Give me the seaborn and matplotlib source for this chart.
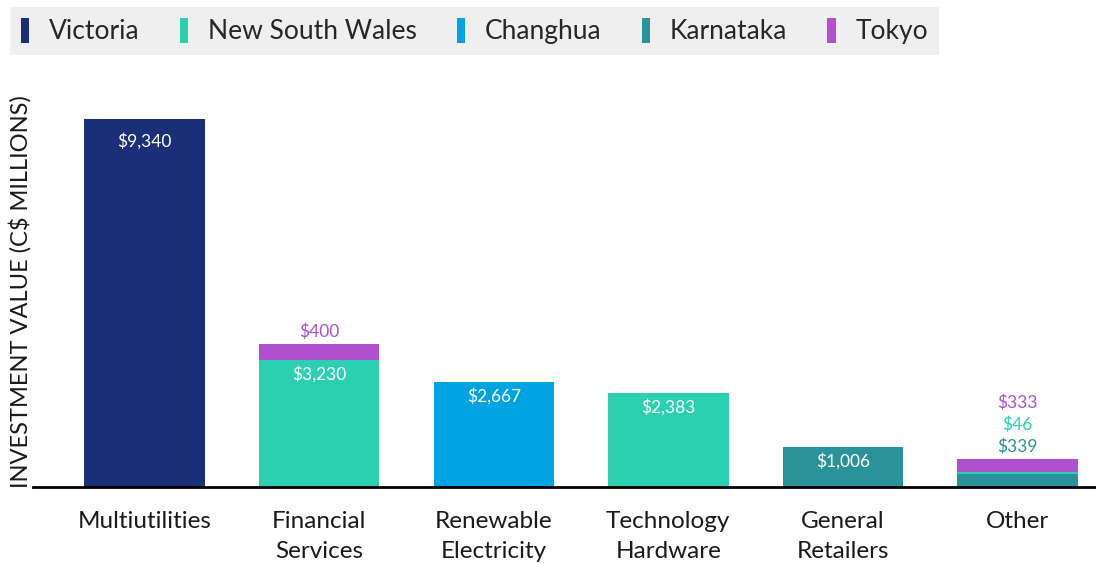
import seaborn as sns
import pandas as pd
import matplotlib.pyplot as plt
from matplotlib.patches import Patch

sns.set_theme(style='white')
plt.rcParams['font.family'] = ['Lato', 'DejaVu Sans']

categories = ['Multiutilities', 'Financial\nServices', 'Renewable\nElectricity',
              'Technology\nHardware', 'General\nRetailers', 'Other']
legend_order = ['Victoria', 'New South Wales', 'Changhua', 'Karnataka', 'Tokyo']
stack_order = ['Victoria', 'Changhua', 'Karnataka', 'New South Wales', 'Tokyo']

victoria = [9340, 0, 0, 0, 0, 0]
nsw = [0, 3230, 0, 2383, 0, 46]
changhua = [0, 0, 2667, 0, 0, 0]
karnataka = [0, 0, 0, 0, 1006, 339]
tokyo = [0, 400, 0, 0, 0, 333]

colors = {'Victoria': '#1b2f78', 'New South Wales': '#2bd0b0', 'Changhua': '#00a3e2',
          'Karnataka': '#2a9399', 'Tokyo': '#b04fd0'}

wide = pd.DataFrame({'Category': categories, 'Victoria': victoria, 'New South Wales': nsw,
                     'Changhua': changhua, 'Karnataka': karnataka, 'Tokyo': tokyo})
cum = wide.set_index('Category')[stack_order].cumsum(axis=1)

fig = plt.figure(figsize=(10.96, 5.64), dpi=100)
ax = fig.add_axes([0.030, 0.1365, 0.97, 0.6986])

# stacked bars: draw cumulative totals from the top layer down
for name in reversed(stack_order):
    layer = cum[name].reset_index()
    sns.barplot(data=layer, x='Category', y=name, color=colors[name], width=0.69,
                saturation=1, ax=ax, order=categories, linewidth=0, edgecolor='none')

ax.set_ylim(0, 10000)
ax.set_xlim(-0.64, 5.45)
ax.set_ylabel('')
ax.set_xlabel('')
ax.set_yticks([])
for s in ['top', 'right', 'left']:
    ax.spines[s].set_visible(False)
ax.spines['bottom'].set_color('black')
ax.spines['bottom'].set_linewidth(2)
ax.tick_params(axis='x', length=0, pad=17, labelsize=17.5, labelcolor='#1a1a1a')
for t in ax.get_xticklabels():
    t.set_linespacing(1.55)

# value labels
to_px = 10000 / (0.6986 * 564)
for i, cat in enumerate(categories):
    row = wide.set_index('Category').loc[cat]
    base = 0
    above = 0
    total = cum.loc[cat].iloc[-1]
    for name in stack_order:
        v = row[name]
        if v <= 0:
            continue
        top = base + v
        if v > 900:
            off = 22 if v > 5000 else 14
            ax.text(i, top - off * to_px, f'${v:,.0f}', ha='center', va='center',
                    color='white', fontsize=12.5)
        else:
            ax.text(i, total + (12 + 22 * above) * to_px, f'${v:,.0f}', ha='center',
                    va='center', color=colors[name], fontsize=12.5)
            above += 1
        base = top

fig.text(20 / 1096, 1 - 292 / 564, 'INVESTMENT VALUE (C$ MILLIONS)', rotation=90,
         ha='center', va='center', fontsize=17, color='#1a1a1a')

handles = [Patch(facecolor=colors[n], edgecolor='none', label=n) for n in legend_order]
leg = fig.legend(handles=handles, loc='upper left', bbox_to_anchor=(10 / 1096, 1 - 7 / 564),
                 ncol=5, frameon=True, facecolor='#efefef', edgecolor='none', fancybox=False,
                 fontsize=19, handlelength=0.32, handleheight=1.1, handletextpad=0.75,
                 columnspacing=1.52, borderaxespad=0, borderpad=0.4)
leg.get_frame().set_alpha(1)

fig.savefig('out.png', dpi=100)
